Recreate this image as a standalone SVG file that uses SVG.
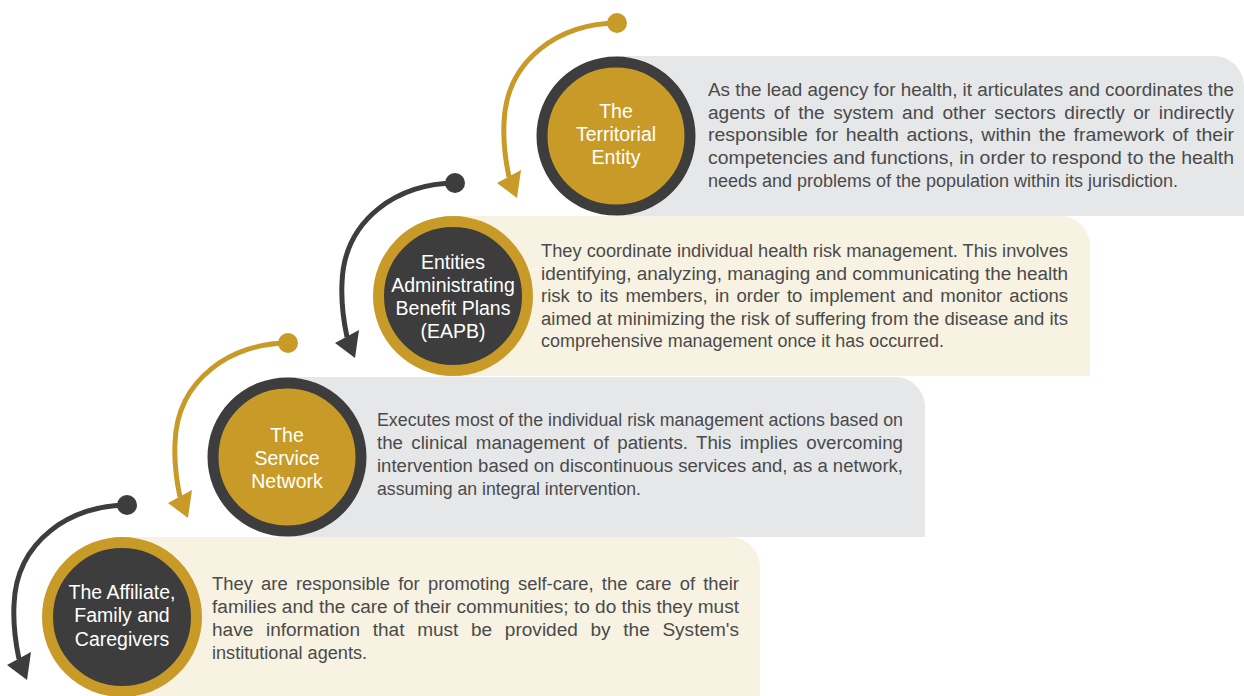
<svg xmlns="http://www.w3.org/2000/svg" xmlns:xlink="http://www.w3.org/1999/xlink" width="1244" height="696" viewBox="0 0 1244 696">
  <style>
    .panel-gray { fill: #e6e7e9; }
    .panel-cream { fill: #f8f2e3; }
    .ring-dark { fill: #c89b29; stroke: #3d3d3d; stroke-width: 11; }
    .ring-gold { fill: #3d3d3d; stroke: #c89b29; stroke-width: 11; }
    .label { font-family: "Liberation Sans", Arial, sans-serif; font-size: 19.5px; fill: #ffffff; text-anchor: middle; }
    .desc { font-family: "Liberation Sans", Arial, sans-serif; font-size: 18px; fill: #4a4a4a; }
    .gold { color: #c89b29; }
    .dark { color: #3d3d3d; }
  </style>
  <defs>
    <!-- curved step arrow: dot at the origin, sweeping left and down to a wide head -->
    <g id="step-arrow">
      <path d="M0,0 C-55,0 -111,35 -113,100 C-114,120 -112,135 -108,154" fill="none" stroke="currentColor" stroke-width="5"/>
      <circle cx="0" cy="0" r="10" fill="currentColor"/>
      <polygon points="-120,160 -96,147 -100,175" fill="currentColor"/>
    </g>
  </defs>

  <g id="node-territorial-entity">
    <path class="panel-gray" d="M616,56 H1214 A30,30 0 0 1 1244,86 V216 H616 Z"/>
    <circle class="ring-dark" cx="616" cy="136" r="74"/>
    <text class="label" x="616" y="118">The</text>
    <text class="label" x="616" y="141">Territorial</text>
    <text class="label" x="616" y="164">Entity</text>
    <text class="desc" x="708" y="96" textLength="526" lengthAdjust="spacingAndGlyphs">As the lead agency for health, it articulates and coordinates the</text>
    <text class="desc" x="708" y="119" textLength="526" lengthAdjust="spacingAndGlyphs" word-spacing="3">agents of the system and other sectors directly or indirectly</text>
    <text class="desc" x="708" y="141" textLength="526" lengthAdjust="spacingAndGlyphs" word-spacing="2">responsible for health actions, within the framework of their</text>
    <text class="desc" x="708" y="164" textLength="526" lengthAdjust="spacingAndGlyphs">competencies and functions, in order to respond to the health</text>
    <text class="desc" x="708" y="187" textLength="470" lengthAdjust="spacingAndGlyphs">needs and problems of the population within its jurisdiction.</text>
  </g>

  <g id="node-eapb">
    <path class="panel-cream" d="M453,216 H1060 A30,30 0 0 1 1090,246 V376 H453 Z"/>
    <circle class="ring-gold" cx="453" cy="296" r="74.5"/>
    <text class="label" x="453" y="269">Entities</text>
    <text class="label" x="453" y="292">Administrating</text>
    <text class="label" x="453" y="315">Benefit Plans</text>
    <text class="label" x="453" y="338">(EAPB)</text>
    <text class="desc" x="541" y="257" textLength="527" lengthAdjust="spacingAndGlyphs">They coordinate individual health risk management. This involves</text>
    <text class="desc" x="541" y="280" textLength="527" lengthAdjust="spacingAndGlyphs">identifying, analyzing, managing and communicating the health</text>
    <text class="desc" x="541" y="302" textLength="527" lengthAdjust="spacingAndGlyphs" word-spacing="2">risk to its members, in order to implement and monitor actions</text>
    <text class="desc" x="541" y="325" textLength="527" lengthAdjust="spacingAndGlyphs">aimed at minimizing the risk of suffering from the disease and its</text>
    <text class="desc" x="541" y="347" textLength="403" lengthAdjust="spacingAndGlyphs">comprehensive management once it has occurred.</text>
  </g>

  <g id="node-service-network">
    <path class="panel-gray" d="M287,377 H895 A30,30 0 0 1 925,407 V537 H287 Z"/>
    <circle class="ring-dark" cx="287" cy="457" r="74"/>
    <text class="label" x="287" y="442">The</text>
    <text class="label" x="287" y="465">Service</text>
    <text class="label" x="287" y="488">Network</text>
    <text class="desc" x="377" y="426" textLength="526" lengthAdjust="spacingAndGlyphs">Executes most of the individual risk management actions based on</text>
    <text class="desc" x="377" y="449" textLength="526" lengthAdjust="spacingAndGlyphs" word-spacing="3">the clinical management of patients. This implies overcoming</text>
    <text class="desc" x="377" y="472" textLength="526" lengthAdjust="spacingAndGlyphs">intervention based on discontinuous services and, as a network,</text>
    <text class="desc" x="377" y="495" textLength="264" lengthAdjust="spacingAndGlyphs">assuming an integral intervention.</text>
  </g>

  <g id="node-affiliate-family">
    <path class="panel-cream" d="M122,537 H730 A30,30 0 0 1 760,567 V696 H122 Z"/>
    <circle class="ring-gold" cx="122" cy="617" r="74.5"/>
    <text class="label" x="122" y="599">The Affiliate,</text>
    <text class="label" x="122" y="622">Family and</text>
    <text class="label" x="122" y="646">Caregivers</text>
    <text class="desc" x="212" y="590" textLength="527" lengthAdjust="spacingAndGlyphs" word-spacing="3">They are responsible for promoting self-care, the care of their</text>
    <text class="desc" x="212" y="613" textLength="527" lengthAdjust="spacingAndGlyphs">families and the care of their communities; to do this they must</text>
    <text class="desc" x="212" y="636" textLength="527" lengthAdjust="spacingAndGlyphs" word-spacing="7">have information that must be provided by the System's</text>
    <text class="desc" x="212" y="659" textLength="155" lengthAdjust="spacingAndGlyphs">institutional agents.</text>
  </g>

  <g id="connectors">
    <use xlink:href="#step-arrow" class="gold" transform="translate(617,23)"/>
    <use xlink:href="#step-arrow" class="dark" transform="translate(455,183)"/>
    <use xlink:href="#step-arrow" class="gold" transform="translate(288,343)"/>
    <use xlink:href="#step-arrow" class="dark" transform="translate(127,505)"/>
  </g>
</svg>
